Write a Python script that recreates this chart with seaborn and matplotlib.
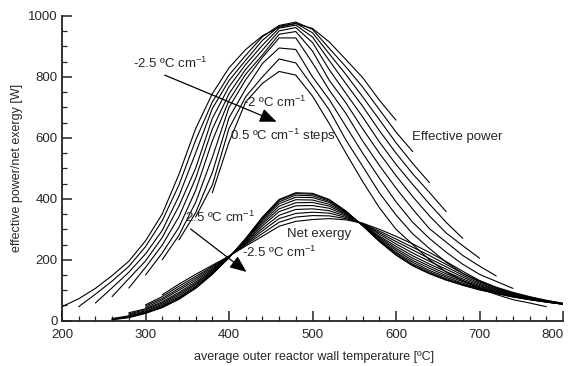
import numpy as np
import pandas as pd
import seaborn as sns
import matplotlib.pyplot as plt
from matplotlib.ticker import MultipleLocator

# Effective power [W], one curve per wall temperature gradient.
# Each curve is read every 20 degC starting at its first temperature.
power_start = [200, 220, 240, 260, 280, 300, 320, 340, 360, 380]
power_values = [
    [46, 72, 106, 148, 195, 262, 350, 480, 630, 745, 830, 890, 935, 963, 975, 959, 915, 857, 798, 724, 658],
    [46, 87, 130, 178, 243, 328, 445, 592, 718, 806, 871, 932, 969, 980, 956, 894, 833, 767, 693, 619, 555],
    [58, 108, 159, 219, 296, 409, 550, 696, 788, 855, 920, 966, 976, 945, 876, 808, 735, 660, 584, 516, 453],
    [79, 138, 196, 273, 376, 500, 664, 768, 841, 904, 960, 970, 931, 854, 778, 704, 624, 550, 482, 421, 358],
    [107, 175, 248, 341, 467, 629, 745, 825, 888, 951, 962, 913, 824, 746, 669, 587, 513, 447, 383, 323, 270],
    [150, 222, 306, 427, 590, 723, 809, 872, 940, 949, 885, 789, 715, 630, 550, 476, 407, 344, 288, 246, 205],
    [200, 280, 388, 536, 700, 791, 864, 928, 928, 846, 757, 680, 590, 510, 435, 366, 302, 258, 214, 179, 147],
    [265, 354, 486, 666, 761, 844, 895, 890, 800, 726, 638, 550, 468, 390, 323, 270, 225, 185, 152, 129, 106],
    [340, 445, 631, 735, 800, 859, 846, 770, 692, 593, 507, 420, 347, 285, 237, 192, 155, 130, 107, 89, 72],
    [420, 586, 718, 779, 818, 806, 737, 647, 550, 457, 371, 300, 250, 200, 160, 131, 106, 86, 69, 58, 46],
]

# Net exergy [W], same layout (all curves run to 800 degC)
exergy_start = [260, 260, 260, 260, 280, 280, 280, 300, 300, 300, 320]
exergy_values = [
    [3, 10, 24, 43, 70, 106, 152, 207, 270, 340, 398, 420, 418, 398, 360, 312, 260, 215, 180, 154, 133, 116, 101, 89, 78, 69, 61, 54],
    [4, 11, 25, 44, 72, 107, 153, 207, 269, 338, 395, 417, 415, 396, 359, 312, 261, 217, 182, 156, 135, 117, 102, 90, 78, 69, 61, 54],
    [5, 13, 27, 47, 75, 110, 155, 207, 268, 334, 390, 412, 410, 392, 357, 313, 264, 221, 186, 160, 138, 120, 104, 91, 79, 70, 62, 54],
    [7, 16, 29, 50, 78, 113, 157, 208, 266, 330, 384, 405, 404, 388, 355, 313, 266, 225, 192, 165, 143, 123, 106, 92, 80, 71, 62, 54],
    [19, 32, 54, 83, 118, 160, 208, 264, 324, 376, 397, 396, 382, 353, 314, 270, 231, 198, 172, 148, 128, 109, 94, 82, 72, 63, 55],
    [22, 36, 58, 88, 122, 163, 209, 261, 318, 367, 387, 388, 376, 350, 315, 274, 237, 205, 179, 154, 132, 112, 96, 83, 73, 63, 55],
    [26, 39, 62, 93, 127, 166, 209, 258, 311, 358, 377, 378, 369, 347, 316, 278, 244, 213, 186, 161, 137, 115, 99, 85, 74, 64, 55],
    [43, 68, 100, 133, 170, 210, 255, 303, 346, 365, 367, 361, 343, 317, 284, 252, 222, 195, 169, 143, 119, 101, 87, 75, 65, 56],
    [48, 73, 106, 139, 174, 211, 252, 295, 335, 352, 356, 353, 339, 318, 289, 260, 232, 204, 177, 149, 123, 104, 89, 76, 65, 56],
    [52, 79, 113, 145, 178, 211, 249, 286, 323, 340, 345, 344, 335, 319, 294, 268, 241, 214, 185, 155, 127, 107, 91, 77, 66, 57],
    [85, 120, 152, 182, 212, 245, 277, 310, 326, 332, 335, 331, 320, 300, 277, 252, 224, 194, 162, 132, 110, 93, 79, 67, 57],
]

step = 20

def to_frame(starts, values, name):
    rows = []
    for i, (t0, vals) in enumerate(zip(starts, values)):
        for j, v in enumerate(vals):
            rows.append({"temp": t0 + step * j, "value": v, "curve": f"{name}{i}"})
    return pd.DataFrame(rows)

df = pd.concat([to_frame(power_start, power_values, "p"),
                to_frame(exergy_start, exergy_values, "e")], ignore_index=True)

sns.set_style("ticks")
plt.rcParams["font.family"] = ["Liberation Sans", "DejaVu Sans"]
plt.rcParams["mathtext.fontset"] = "custom"
plt.rcParams["mathtext.rm"] = "Liberation Sans"
plt.rcParams["mathtext.it"] = "Liberation Sans:italic"
plt.rcParams["mathtext.bf"] = "Liberation Sans:bold"

fig = plt.figure(figsize=(5.72, 3.66), dpi=100)
ax = fig.add_axes([0.1084, 0.1238, 0.8759, 0.8325])

sns.lineplot(data=df, x="temp", y="value", units="curve", estimator=None,
             color="black", linewidth=0.8, legend=False, ax=ax)

ax.set_xlim(200, 800)
ax.set_ylim(0, 1000)
ax.xaxis.set_major_locator(MultipleLocator(100))
ax.xaxis.set_minor_locator(MultipleLocator(20))
ax.yaxis.set_major_locator(MultipleLocator(200))
ax.yaxis.set_minor_locator(MultipleLocator(50))
sns.despine(ax=ax)
for s in ["left", "bottom"]:
    ax.spines[s].set_linewidth(1.3)
    ax.spines[s].set_color("#222222")
ax.tick_params(which="major", direction="in", length=7, width=1.1, color="#222222", labelsize=9.5)
ax.tick_params(which="minor", direction="in", length=3.5, width=0.9, color="#222222")
ax.tick_params(axis="x", which="major", pad=6)
ax.tick_params(axis="y", which="major", pad=3)

ax.set_xlabel("average outer reactor wall temperature [ºC]", fontsize=9)
ax.set_ylabel("effective power/net exergy [W]", fontsize=9)
ax.xaxis.set_label_coords(0.503, -0.10)
ax.yaxis.set_label_coords(-0.078, 0.5)

fs = 9.5
unit = r" ºC cm$^{-1}$"
ax.text(285, 828, "-2.5" + unit, fontsize=fs, va="baseline")
ax.text(417, 702, "-2" + unit, fontsize=fs, va="baseline")
ax.text(401, 593, "0.5" + unit + " steps", fontsize=fs, va="baseline")
ax.text(619, 593, "Effective power", fontsize=fs, va="baseline")
ax.text(469, 276, "Net exergy", fontsize=fs, va="baseline")
ax.text(347, 325, "2.5" + unit, fontsize=fs, va="baseline")
ax.text(415, 208, "-2.5" + unit, fontsize=fs, va="baseline")

arrow = dict(arrowstyle="-|>,head_length=0.6,head_width=0.25", mutation_scale=17,
             color="black", lw=0.9, shrinkA=0, shrinkB=0)
ax.annotate("", xy=(457, 653), xytext=(323, 806), arrowprops=arrow)
ax.annotate("", xy=(421, 160), xytext=(354, 301), arrowprops=arrow)

# last x tick label sits inside the figure edge, as in the original
fig.canvas.draw()
for lab in ax.get_xticklabels():
    if lab.get_text() == "800":
        lab.set_horizontalalignment("right")
        lab.set_x(lab.get_position()[0] + 1)

fig.savefig("out.png", dpi=100)
